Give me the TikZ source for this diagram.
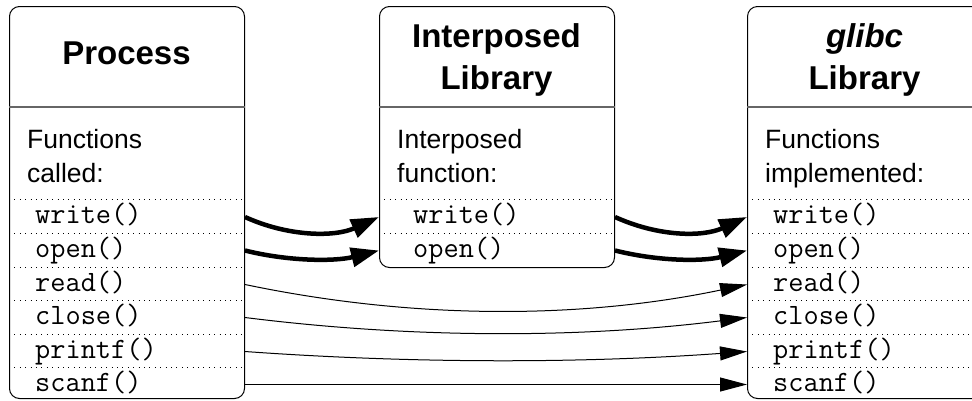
\documentclass[tikz,border=0pt]{standalone}
\usepackage{fontspec}
\setmainfont{Liberation Sans}
\usetikzlibrary{arrows.meta}

\begin{document}
\begin{tikzpicture}[x=1pt,y=-1pt,
  box/.style={draw=black, line width=1pt, rounded corners=10pt, anchor=north west, inner sep=0pt, minimum width=235pt},
  hdr/.style={font=\fontsize{33}{43}\selectfont\bfseries, anchor=base, inner sep=0pt},
  body/.style={font=\fontsize{26.5}{34}\selectfont, anchor=base west, inner sep=0pt},
  fn/.style={font=\fontsize{29.5}{32}\selectfont\ttfamily, anchor=base west, inner sep=0pt, text height=18pt, text depth=5pt},
  sep/.style={line width=0.8pt, dash pattern=on 0.8pt off 4.6pt},
  rulex/.style={draw=black!60, line width=1.3pt},
  thickarrow/.style={line width=4.5pt, -{Triangle[length=28pt,width=19pt]}},
  thinarrow/.style={line width=1pt, -{Triangle[length=27pt,width=14pt]}}
]
\useasboundingbox (0,0) rectangle (972,400);

% boxes
\node[box, minimum height=392pt] (p) at (9,6) {};
\node[box, minimum height=261pt] (i) at (379,6) {};
\node[box, minimum height=392pt] (g) at (747,6) {};

% header rules
\draw[rulex] (p.west |- 0,107) -- (p.east |- 0,107);
\draw[rulex] (i.west |- 0,107) -- (i.east |- 0,107);
\draw[rulex] (g.west |- 0,107) -- (g.east |- 0,107);

% headers
\node[hdr] (p-h) at (126.5,64) {Process};
\node[hdr] (i-h1) at (496.5,47) {Interposed};
\node[hdr] (i-h2) at (496.5,89) {Library};
\node[hdr] (g-h1) at (864.5,47) {\textit{glibc}};
\node[hdr] (g-h2) at (864.5,89) {Library};

% body texts
\node[body] (p-b1) at (27,148) {Functions};
\node[body] (p-b2) at (27,182) {called:};
\node[body] (i-b1) at (397,148) {Interposed};
\node[body] (i-b2) at (397,182) {function:};
\node[body] (g-b1) at (765,148) {Functions};
\node[body] (g-b2) at (765,182) {implemented:};

% dotted separators
\foreach \yy in {199,233,267,300,334,367} {
  \draw[sep] (p.west |- 0,\yy) -- (p.east |- 0,\yy);
  \draw[sep] (g.west |- 0,\yy) -- (g.east |- 0,\yy);
}
\foreach \yy in {199,233} {
  \draw[sep] (i.west |- 0,\yy) -- (i.east |- 0,\yy);
}

% function names
\node[fn] (p-write)  at (35,223.5) {write()};
\node[fn] (p-open)   at (35,257)   {open()};
\node[fn] (p-read)   at (35,291)   {read()};
\node[fn] (p-close)  at (35,324)   {close()};
\node[fn] (p-printf) at (35,358)   {printf()};
\node[fn] (p-scanf)  at (35,391)   {scanf()};

\node[fn] (i-write)  at (413,223.5) {write()};
\node[fn] (i-open)   at (413,257)   {open()};

\node[fn] (g-write)  at (773,223.5) {write()};
\node[fn] (g-open)   at (773,257)   {open()};
\node[fn] (g-read)   at (773,291)   {read()};
\node[fn] (g-close)  at (773,324)   {close()};
\node[fn] (g-printf) at (773,358)   {printf()};
\node[fn] (g-scanf)  at (773,391)   {scanf()};

% thick arrows
\draw[thickarrow] (p.east |- p-write) .. controls +(44,20) and +(-44,20) .. (i.west |- i-write);
\draw[thickarrow] (p.east |- p-open) .. controls +(44,11) and +(-44,11) .. (i.west |- i-open);
\draw[thickarrow] (i.east |- i-write) .. controls +(44,20) and +(-44,20) .. (g.west |- g-write);
\draw[thickarrow] (i.east |- i-open) .. controls +(44,11) and +(-44,11) .. (g.west |- g-open);

% thin arrows
\draw[thinarrow] (p.east |- p-read) .. controls +(167,35) and +(-167,35) .. (g.west |- g-read);
\draw[thinarrow] (p.east |- p-close) .. controls +(167,21) and +(-167,21) .. (g.west |- g-close);
\draw[thinarrow] (p.east |- p-printf) .. controls +(167,12) and +(-167,12) .. (g.west |- g-printf);
\draw[thinarrow] (p.east |- p-scanf) -- (g.west |- g-scanf);
\end{tikzpicture}
\end{document}
